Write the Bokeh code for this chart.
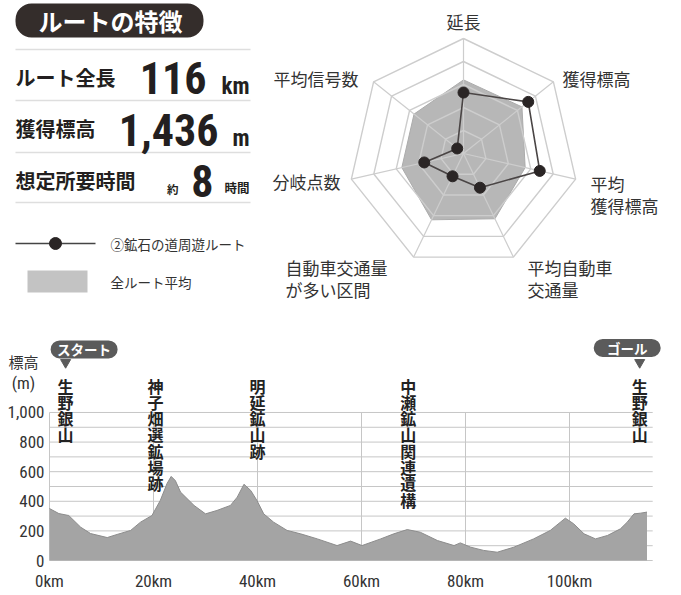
import numpy as np
from bokeh.plotting import figure
from bokeh.layouts import column
from bokeh.models import Range1d, FixedTicker, Label
from bokeh.core.properties import value
from bokeh.embed import file_html
from bokeh.resources import INLINE

JP = "Noto Sans CJK JP"
NUMF = "'Roboto Condensed', 'Noto Sans Condensed', 'Open Sans Condensed', Roboto, sans-serif"
TICKF = "'Liberation Sans Narrow', 'Roboto Condensed', 'Liberation Sans', sans-serif"
INK = "#231f20"

# ---------------- data ----------------
header_title = "ルートの特徴"
stat_names = ["ルート全長", "獲得標高", "想定所要時間"]
stat_values = ["116", "1,436", "8"]
stat_units = ["km", "m", "時間"]
stat_prefix = ["", "", "約"]

radar_axes = ["延長", "獲得標高", "平均\n獲得標高", "平均自動車\n交通量",
              "自動車交通量\nが多い区間", "分岐点数", "平均信号数"]
route_values = [0.53, 0.72, 0.68, 0.33, 0.22, 0.35, 0.07]
average_values = [0.64, 0.65, 0.55, 0.63, 0.64, 0.55, 0.55]
ring_levels = [0.2, 0.4, 0.6, 0.8, 1.0]
legend_labels = ["②鉱石の道周遊ルート", "全ルート平均"]

dist_km = [0, 1.8, 3.7, 6.0, 7.9, 11.1, 13.0, 15.6, 17.5, 19.7, 21.3, 22.6, 23.4,
           24.2, 25.2, 27.8, 30.0, 32.2, 34.8, 36.1, 37.4, 38.7, 39.9, 41.2, 43.1,
           45.7, 48.3, 51.5, 55.3, 57.9, 60.1, 63.7, 66.2, 68.8, 71.3, 74.6, 77.8,
           79.0, 81.0, 83.5, 86.1, 89.3, 93.1, 96.3, 99.2, 100.8, 102.8, 105.0,
           107.3, 109.8, 111.1, 112.4, 113.7, 114.9]
elev_m = [351, 317, 304, 225, 182, 155, 176, 203, 259, 304, 405, 520, 568,
          540, 462, 372, 315, 338, 372, 428, 515, 473, 405, 315, 259,
          203, 180, 146, 101, 131, 101, 146, 180, 209, 191, 135, 101,
          119, 90, 68, 56, 90, 146, 203, 286, 248, 180, 146,
          169, 214, 259, 315, 320, 327]

y_ticks = [0, 200, 400, 600, 800, 1000]
y_tick_labels = ["0", "200", "400", "600", "800", "1,000"]
y_grid = [0, 100, 200, 300, 400, 500, 600, 700, 800, 900, 1000]
x_ticks = [0, 20, 40, 60, 80, 100]
x_tick_labels = ["0km", "20km", "40km", "60km", "80km", "100km"]
route_end_km = 116

poi_km = [3.1, 20.4, 40.0, 69.0, 113.5]
poi_names = ["生野銀山", "神子畑選鉱場跡", "明延鉱山跡", "中瀬鉱山関連遺構", "生野銀山"]
flag_km = [3.1, 113.5]
flag_texts = ["スタート", "ゴール"]

W = 681

# ---------------- top panel (pixel-like coordinates) ----------------
top = figure(width=W, height=330, x_range=Range1d(0, W), y_range=Range1d(330, 0),
             x_axis_type=None, y_axis_type=None, toolbar_location=None,
             output_backend="svg", min_border=0, outline_line_color=None)

top.quad(left=[15], right=[203], top=[3], bottom=[37], border_radius=16,
         fill_color="#342d2b", line_color=None)
top.text(x=[110], y=[20], text=[header_title], text_color="white",
         text_font=value(JP), text_font_size="24px", text_font_style="bold",
         text_align="center", text_baseline="middle")

top.segment(x0=[15] * 4, x1=[250] * 4, y0=[49, 100, 152, 202], y1=[49, 100, 152, 202],
            line_color="#dedede", line_width=1.5)

top.text(x=[15] * 3, y=[77, 128, 180], text=stat_names, text_color=INK, text_font=value(JP),
         text_font_size="20px", text_font_style="bold", text_baseline="middle")
top.text(x=[206, 218, 213], y=[77, 129, 180], text=stat_values, text_color=INK,
         text_font=value(NUMF), text_font_size="44px", text_font_style="bold",
         text_align="right", text_baseline="middle")
top.text(x=[249, 249], y=[85.5, 137.5], text=stat_units[:2], text_color=INK,
         text_font=value(NUMF), text_font_size="23px", text_font_style="bold",
         text_align="right", text_baseline="middle")
top.text(x=[249], y=[187], text=[stat_units[2]], text_color=INK,
         text_font=value(JP), text_font_size="12.5px", text_font_style="bold",
         text_align="right", text_baseline="middle")
top.text(x=[178], y=[188], text=[stat_prefix[2]], text_color=INK,
         text_font=value(JP), text_font_size="11.5px", text_font_style="bold",
         text_align="right", text_baseline="middle")

# legend
top.line(x=[15, 95], y=[243, 243], line_color="#444444", line_width=1.5)
top.scatter(x=[55], y=[243], size=12, color="#2a2525")
top.quad(left=[27], right=[87], top=[270], bottom=[292], fill_color="#c3c3c3", line_color=None)
top.text(x=[110, 110], y=[243, 281], text=legend_labels, text_color="#333333",
         text_font=value(JP), text_font_size="13.5px", text_baseline="middle")

# radar
cx, cy, R = 463, 153, 115
n = len(radar_axes)
ang = np.arange(n) * 2 * np.pi / n


def radar_xy(vals):
    v = np.asarray(vals, dtype=float)
    return list(cx + R * v * np.sin(ang)), list(cy - R * v * np.cos(ang))


ax_, ay_ = radar_xy(average_values)
top.patch(ax_, ay_, fill_color="#b7b7b7", line_color="#ababab", line_width=1)

ring_xs, ring_ys = [], []
for lv in ring_levels:
    xs, ys = radar_xy([lv] * n)
    ring_xs.append(xs + [xs[0]])
    ring_ys.append(ys + [ys[0]])
top.multi_line(ring_xs, ring_ys, line_color="#cdcdcd", line_width=1.4)
ox, oy = radar_xy([1.0] * n)
top.segment(x0=[cx] * n, y0=[cy] * n, x1=ox, y1=oy, line_color="#cdcdcd", line_width=1.2)

rx, ry = radar_xy(route_values)
top.line(rx + [rx[0]], ry + [ry[0]], line_color="#4a4545", line_width=1.6)
top.scatter(rx, ry, size=11, color="#2a2525")

lab_x = [463, 562, 590, 527, 285, 272, 273]
lab_y = [21, 78, 170, 254, 254, 181, 78]
lab_align = ["center", "left", "left", "left", "left", "left", "left"]
lab_base = ["middle", "middle", "top", "top", "top", "middle", "middle"]
for t, x, y, a, b in zip(radar_axes, lab_x, lab_y, lab_align, lab_base):
    top.text(x=[x], y=[y], text=[t], text_color="#333333", text_font=value(JP),
             text_font_size="17px", text_align=a, text_baseline=b, text_line_height=0.9)

# ---------------- elevation profile ----------------
px_per_km = 5.2
px_per_m = 225 / 1520
x_start = -49 / px_per_km
x_end = x_start + W / px_per_km
y_start = -9 / px_per_m
bot = figure(frame_width=W, frame_height=234, x_range=Range1d(x_start, x_end),
             y_range=Range1d(y_start, 1520), toolbar_location=None, output_backend="svg",
             outline_line_color=None, min_border_left=0, min_border_right=0,
             min_border_top=5, min_border_bottom=10)
bot.grid.visible = False

bot.segment(x0=[0] * len(y_grid), x1=[route_end_km] * len(y_grid), y0=y_grid, y1=y_grid,
            line_color="#c6c6c6", line_width=1)
bot.segment(x0=x_ticks, x1=x_ticks, y0=[0] * len(x_ticks), y1=[1000] * len(x_ticks),
            line_color="#c6c6c6", line_width=1)

bot.varea(x=dist_km, y1=[0] * len(dist_km), y2=elev_m, fill_color="#a4a4a4")
bot.line(dist_km, elev_m, line_color="#8c8c8c", line_width=1)

bot.text(x=poi_km, y=[1263] * len(poi_km), text=["\n".join(s) for s in poi_names],
         text_color="#222222", text_font=value(JP), text_font_size="16px",
         text_font_style="bold", text_align="center", text_baseline="top",
         text_line_height=0.68)

flag_center = [flag_km[0] + 18.5 / px_per_km, flag_km[1] - 12.5 / px_per_km]
bot.rect(x=flag_center, y=[1426, 1436], width=67, height=18, width_units="screen",
         height_units="screen", border_radius=9, fill_color="#5b5b5b", line_color=None)
bot.scatter(x=flag_km, y=[1338, 1338], marker="inverted_triangle", size=10,
            color="#5b5b5b")
bot.text(x=flag_center, y=[1426, 1436], text=flag_texts, text_color="white",
         text_font=value(JP), text_font_size="13.5px", text_font_style="bold",
         text_align="center", text_baseline="middle")

bot.add_layout(Label(x=-5, y=1345, text="標高", text_align="center", text_baseline="middle",
                     text_font=JP, text_font_size="15px", text_color="#333333"))
bot.add_layout(Label(x=-5, y=1196, text="(m)", text_align="center", text_baseline="middle",
                     text_font=TICKF, text_font_size="17px", text_color="#333333"))

for ax in (bot.xaxis[0], bot.yaxis[0]):
    ax.axis_line_color = None
    ax.major_tick_line_color = None
    ax.minor_tick_line_color = None
    ax.major_tick_out = 0
    ax.major_tick_in = 0
    ax.major_label_text_font = TICKF
    ax.major_label_text_font_size = "17px"
    ax.major_label_text_color = "#333333"

bot.yaxis.fixed_location = 0
bot.yaxis.ticker = FixedTicker(ticks=y_ticks)
bot.yaxis.major_label_overrides = dict(zip(y_ticks, y_tick_labels))
bot.yaxis.major_label_standoff = 5
bot.xaxis.ticker = FixedTicker(ticks=x_ticks)
bot.xaxis.major_label_overrides = dict(zip(x_ticks, x_tick_labels))
bot.xaxis.major_label_standoff = 1

layout = column(top, bot, spacing=0)
open("out.html", "w").write(file_html(layout, INLINE))
